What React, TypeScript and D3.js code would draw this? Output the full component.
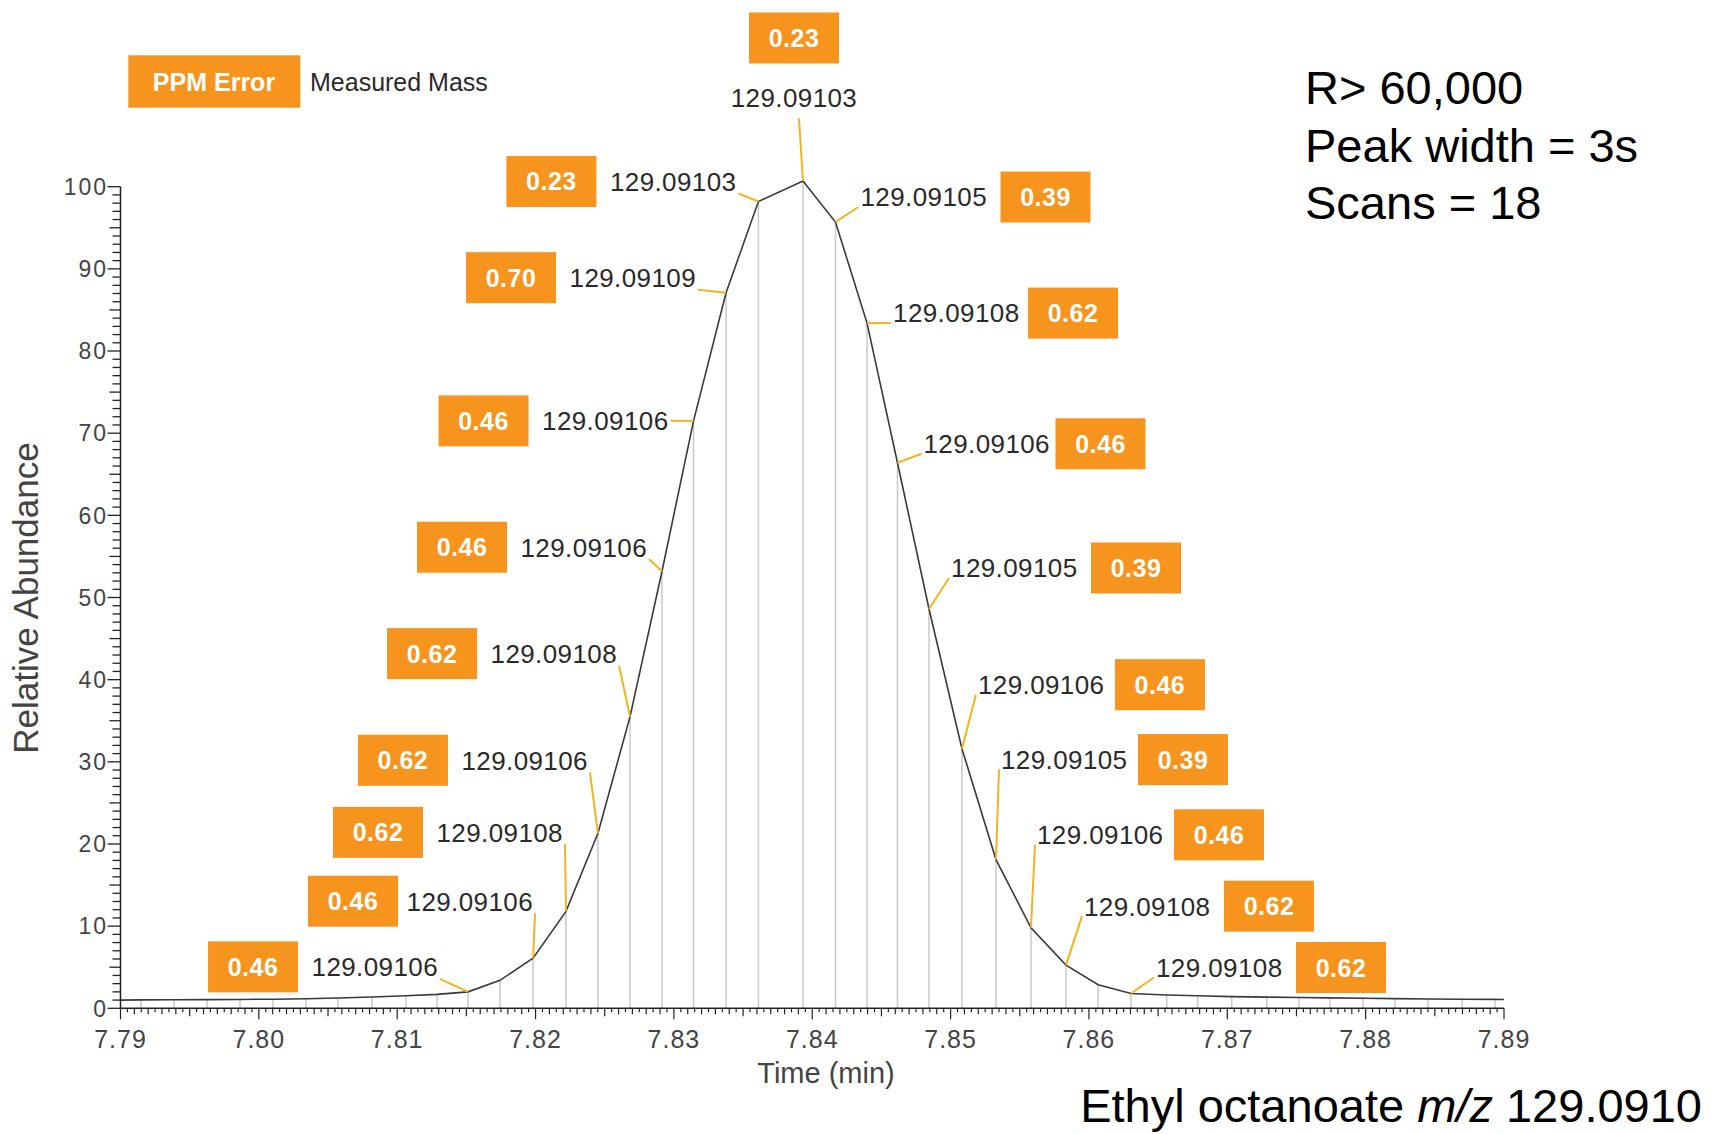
import React, { useEffect } from "react";
import * as d3 from "d3";

// ---------- DATA ----------
// Scan retention times (min) and relative abundance (%)
const scanTime = [
  7.79148, 7.79387, 7.79625, 7.79864, 7.80102, 7.80341, 7.80572, 7.80818, 7.81064, 7.81288,
  7.81512, 7.81743, 7.81982, 7.8222, 7.82451, 7.82683, 7.82914, 7.83142, 7.83377, 7.83611,
  7.83933, 7.84168, 7.84396, 7.84616, 7.84844, 7.85082, 7.85328, 7.85581, 7.85834, 7.86066,
  7.86304,
  7.86562, 7.86786, 7.87032, 7.87285, 7.87518, 7.87742, 7.87981, 7.88212, 7.88451, 7.88697, 7.88935,
];
const abundance = [
  1.02, 1.04, 1.06, 1.08, 1.11, 1.17, 1.25, 1.38, 1.52, 1.7,
  2.0, 3.4, 6.1, 11.8, 21.3, 35.5, 53.2, 71.5, 87.1, 98.2,
  100.7, 95.7, 83.4, 66.4, 48.6, 31.6, 18.1, 9.8, 5.25, 2.86,
  1.8,
  1.62, 1.52, 1.42, 1.36, 1.31, 1.27, 1.22, 1.18, 1.14, 1.11, 1.09,
];
// trace end points at the axis limits
const edgeTime = [7.79, 7.89];
const edgeAbundance = [1.0, 1.08];

// annotated scans start at this index of scanTime
const annotatedStart = 10;
const measuredMass = [
  "129.09106", null, "129.09106", "129.09108", "129.09106", "129.09108", "129.09106",
  "129.09106", "129.09109", "129.09103", "129.09103", "129.09105", "129.09108", "129.09106",
  "129.09105", "129.09106", "129.09105", "129.09106", "129.09108", null, "129.09108",
];
const ppmError = [
  "0.46", null, "0.46", "0.62", "0.62", "0.62", "0.46",
  "0.46", "0.70", "0.23", "0.23", "0.39", "0.62", "0.46",
  "0.39", "0.46", "0.39", "0.46", "0.62", null, "0.62",
];

const xTicks = [7.79, 7.8, 7.81, 7.82, 7.83, 7.84, 7.85, 7.86, 7.87, 7.88, 7.89];
const yTicks = [0, 10, 20, 30, 40, 50, 60, 70, 80, 90, 100];
const infoLines = ["R> 60,000", "Peak width = 3s", "Scans = 18"];

// ---------- LAYOUT (label placement relative to the scan point, px) ----------
const LABEL_LAYOUT: ({ side: string; dx: number; dy: number; gap?: number } | null)[] = [
  { side: "L", dx: -30, dy: -25 },
  null,
  { side: "L", dx: 0, dy: -57, gap: 8 },
  { side: "L", dx: -3, dy: -79 },
  { side: "L", dx: -10, dy: -73 },
  { side: "L", dx: -13, dy: -63 },
  { side: "L", dx: -15, dy: -24 },
  { side: "L", dx: -25, dy: 0 },
  { side: "L", dx: -30, dy: -15 },
  { side: "L", dx: -22, dy: -20 },
  { side: "T", dx: -9, dy: -83.5 },
  { side: "R", dx: 25, dy: -25 },
  { side: "R", dx: 26, dy: -10, gap: 8 },
  { side: "R", dx: 26, dy: -19, gap: 5 },
  { side: "R", dx: 22, dy: -41 },
  { side: "R", dx: 16, dy: -64, gap: 10 },
  { side: "R", dx: 5, dy: -100, gap: 10 },
  { side: "R", dx: 6, dy: -93, gap: 10 },
  { side: "R", dx: 18, dy: -59 },
  null,
  { side: "R", dx: 25, dy: -26 },
];

const W = 1712;
const H = 1134;
const ORANGE = "#F7941D";
const LEADER = "#F0B41E";
const FONT = "'Liberation Sans', Arial, Helvetica, sans-serif";

const TEXT_W = 127;
const GAP = 13;
const BOX_W = 90;
const BOX_H = 51;

export default function App() {
  useEffect(() => {
    document.body.style.margin = "0";
    document.body.style.overflow = "hidden";
  }, []);

  const x = d3.scaleLinear().domain([7.79, 7.89]).range([120.5, 1504]);
  const y = d3.scaleLinear().domain([0, 100]).range([1008.3, 186.7]);

  const tracePts: [number, number][] = [
    [edgeTime[0], edgeAbundance[0]],
    ...scanTime.map((t, i) => [t, abundance[i]] as [number, number]),
    [edgeTime[1], edgeAbundance[1]],
  ];
  const line = d3
    .line<[number, number]>()
    .x((d) => x(d[0]))
    .y((d) => y(d[1]));

  const y0 = y(0);
  const yMinor = d3.range(0, 101, 1);
  const xMinor = d3.range(0, 201, 1).map((i) => 7.79 + i * 0.0005);

  const labels: JSX.Element[] = [];
  measuredMass.forEach((mass, i) => {
    const lay = LABEL_LAYOUT[i];
    if (!mass || !lay) return;
    const idx = annotatedStart + i;
    const vx = x(scanTime[idx]);
    const vy = y(abundance[idx]);
    const tx = vx + lay.dx;
    const ty = vy + lay.dy;
    const gap = lay.gap ?? GAP;
    let lx: number, ly: number, bx: number, by: number, anchor: string;
    if (lay.side === "L") {
      anchor = "end";
      lx = tx + 2;
      ly = ty + (lay.dy < -5 ? 12 : 0);
      bx = tx - TEXT_W - gap - BOX_W;
      by = ty - BOX_H / 2;
    } else if (lay.side === "R") {
      anchor = "start";
      lx = tx - 2;
      ly = ty + (lay.dy < -5 ? 10 : 0);
      bx = tx + TEXT_W + gap;
      by = ty - BOX_H / 2;
    } else {
      anchor = "middle";
      lx = vx - 4;
      ly = ty + 21;
      bx = tx - BOX_W / 2;
      by = ty - 59.5 - BOX_H / 2;
    }
    labels.push(
      <g key={"lab" + i}>
        <line x1={vx} y1={vy} x2={lx} y2={ly} stroke={LEADER} strokeWidth={2} />
        <text
          x={tx}
          y={ty}
          dy="0.36em"
          textAnchor={anchor}
          fontFamily={FONT}
          fontSize={26}
          fontWeight={300}
          letterSpacing={0.4}
          fill="#2a2a2a"
        >
          {mass}
        </text>
        <rect x={bx} y={by} width={BOX_W} height={BOX_H} fill={ORANGE} />
        <text
          x={bx + BOX_W / 2}
          y={by + BOX_H / 2}
          dy="0.36em"
          textAnchor="middle"
          fontFamily={FONT}
          fontSize={25}
          fontWeight="bold"
          letterSpacing={0.5}
          fill="#ffffff"
        >
          {ppmError[i]}
        </text>
      </g>
    );
  });

  return (
    <svg
      width={W}
      height={H}
      viewBox={`0 0 ${W} ${H}`}
      style={{ position: "absolute", left: 0, top: 0, background: "#fff" }}
    >
      <rect x={0} y={0} width={W} height={H} fill="#fff" />

      {/* scan sticks */}
      {scanTime.map((t, i) => (
        <line
          key={"s" + i}
          x1={x(t)}
          x2={x(t)}
          y1={y0}
          y2={y(abundance[i])}
          stroke="#c9c9c9"
          strokeWidth={1.5}
        />
      ))}

      {/* trace */}
      <path d={line(tracePts) || ""} fill="none" stroke="#3a3a3a" strokeWidth={1.6} />

      {/* y axis */}
      <line x1={x(7.79)} x2={x(7.79)} y1={y(0)} y2={y(100)} stroke="#222" strokeWidth={1.5} />
      {yMinor.map((v) => {
        const len = v % 10 === 0 ? 13 : v % 5 === 0 ? 11 : 8;
        return (
          <line
            key={"yt" + v}
            x1={x(7.79) - len}
            x2={x(7.79)}
            y1={y(v)}
            y2={y(v)}
            stroke="#222"
            strokeWidth={1.3}
          />
        );
      })}
      {yTicks.map((v) => (
        <text
          key={"yl" + v}
          x={108}
          y={y(v)}
          dy="0.36em"
          textAnchor="end"
          fontFamily={FONT}
          fontSize={23}
          fontWeight={300}
          letterSpacing={2}
          fill="#444"
        >
          {v}
        </text>
      ))}

      {/* x axis */}
      <line x1={x(7.79)} x2={x(7.89)} y1={y0} y2={y0} stroke="#222" strokeWidth={1.5} />
      {xMinor.map((t, i) => {
        const len = i % 20 === 0 ? 11 : i % 10 === 0 ? 8 : i % 2 === 0 ? 6 : 4;
        return (
          <line
            key={"xt" + i}
            x1={x(t)}
            x2={x(t)}
            y1={y0}
            y2={y0 + len}
            stroke="#222"
            strokeWidth={1.2}
          />
        );
      })}
      {xTicks.map((t) => (
        <text
          key={"xl" + t}
          x={x(t)}
          y={1048}
          textAnchor="middle"
          fontFamily={FONT}
          fontSize={25}
          fontWeight={300}
          letterSpacing={1}
          fill="#444"
        >
          {t.toFixed(2)}
        </text>
      ))}
      <text
        x={826}
        y={1083}
        textAnchor="middle"
        fontFamily={FONT}
        fontSize={29}
        fontWeight={300}
        fill="#444"
      >
        Time (min)
      </text>
      <text
        transform="translate(38,598) rotate(-90)"
        textAnchor="middle"
        fontFamily={FONT}
        fontSize={35}
        fontWeight={300}
        fill="#444"
      >
        Relative Abundance
      </text>

      {/* labels */}
      {labels}

      {/* legend */}
      <rect x={128.3} y={55.3} width={172} height={52.4} fill={ORANGE} />
      <text
        x={214}
        y={81.5}
        dy="0.36em"
        textAnchor="middle"
        fontFamily={FONT}
        fontSize={25}
        fontWeight="bold"
        fill="#fff"
      >
        PPM Error
      </text>
      <text
        x={310}
        y={81.7}
        dy="0.36em"
        fontFamily={FONT}
        fontSize={25}
        fontWeight={300}
        fill="#2a2a2a"
      >
        Measured Mass
      </text>

      {/* info text */}
      {infoLines.map((s, i) => (
        <text
          key={"info" + i}
          x={1305}
          y={104 + i * 57.5}
          fontFamily={FONT}
          fontSize={47}
          fill="#000"
        >
          {s}
        </text>
      ))}
      <text
        x={1702}
        y={1122}
        textAnchor="end"
        fontFamily={FONT}
        fontSize={47}
        fill="#000"
      >
        Ethyl octanoate <tspan fontStyle="italic">m/z</tspan> 129.0910
      </text>
    </svg>
  );
}
